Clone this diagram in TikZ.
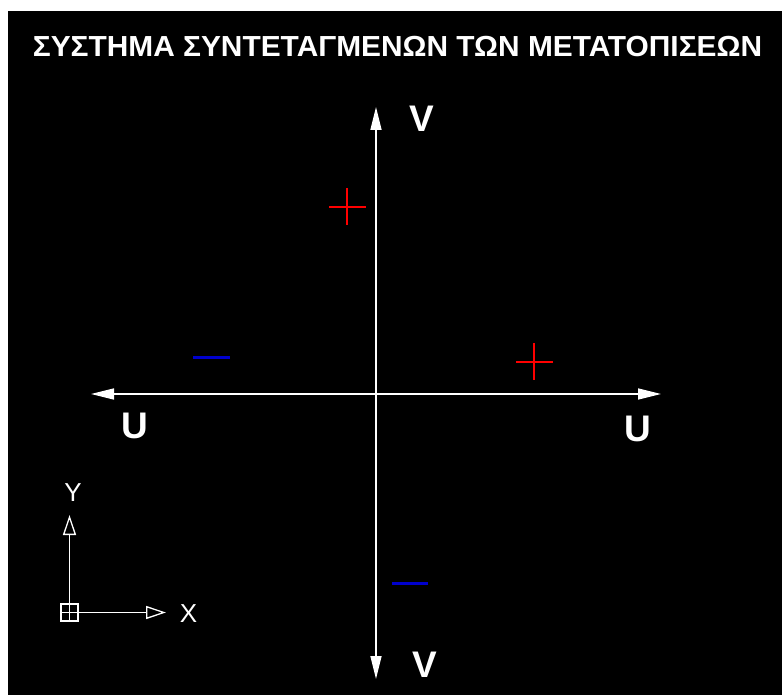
\documentclass[tikz,border=0pt]{standalone}
\usepackage{fontspec}
\setmainfont{Liberation Sans}
\usetikzlibrary{positioning,arrows.meta}

\begin{document}
\begin{tikzpicture}[
  x=1pt, y=-1pt,
  axis/.style={draw=white, line width=1.6pt,
               {Triangle[length=23pt,width=11pt]}-{Triangle[length=23pt,width=11pt]}},
  axlbl/.style={text=white, font=\fontsize{37}{37}\selectfont\bfseries, inner sep=0pt},
  plus/.style={draw=red, line width=2pt},
  minus/.style={draw=blue!80!black, line width=3pt},
  ucs/.style={draw=white, line width=1.3pt},
  ucsarr/.style={ucs, -{Triangle[open,length=20pt,width=13pt]}},
  ucslbl/.style={text=white, font=\fontsize{26}{26}\selectfont, inner sep=0pt}
]
%% --- Frame ---
\useasboundingbox (0,0) rectangle (782,695);
\fill[white] (0,0) rectangle (782,695);
\fill[black] (8,11) rectangle (782,695);

%% --- Title ---
\node[text=white, font=\fontsize{29}{29}\selectfont\bfseries, inner sep=0pt, xscale=1.03]
  (title) at (397.5,47) {ΣΥΣΤΗΜΑ ΣΥΝΤΕΤΑΓΜΕΝΩΝ ΤΩΝ ΜΕΤΑΤΟΠΙΣΕΩΝ};

%% --- U / V axes ---
\coordinate (vtop) at (376,107);
\coordinate (vbot) at (376,679);
\coordinate (uleft) at (91,394);
\coordinate (uright) at (661,394);
\draw[axis] (vbot) -- (vtop);
\draw[axis] (uleft) -- (uright);

\node[axlbl] (vtoplbl) at (421.5,119) {V};
\node[axlbl] (vbotlbl) at (425,664.5) {V};
\node[axlbl] (ulftlbl) at (135,425.5) {U};
\node[axlbl] (urgtlbl) at (637.5,429) {U};

%% --- Signs ---
\draw[plus] (329,207) -- (366,207) (347,188) -- (347,225);
\draw[plus] (516,362) -- (553,362) (534,343) -- (534,380);
\draw[minus] (193,357) -- (230,357);
\draw[minus] (392,583) -- (428,583);

%% --- UCS icon ---
\node[ucs, minimum size=17pt, inner sep=0pt] (ucso) at (69.5,612.5) {};
\draw[ucs, line width=0.9pt] (ucso.north) -- (ucso.south) (ucso.west) -- (ucso.east);
\coordinate (ucsy) at (69.5,515);
\coordinate (ucsx) at (166,612.5);
\draw[ucsarr] (ucso.north) -- (ucsy);
\draw[ucsarr] (ucso.east) -- (ucsx);
\node[ucslbl] (ylbl) at (73,493) {Y};
\node[ucslbl] (xlbl) at (188.5,614) {X};
\end{tikzpicture}
\end{document}
